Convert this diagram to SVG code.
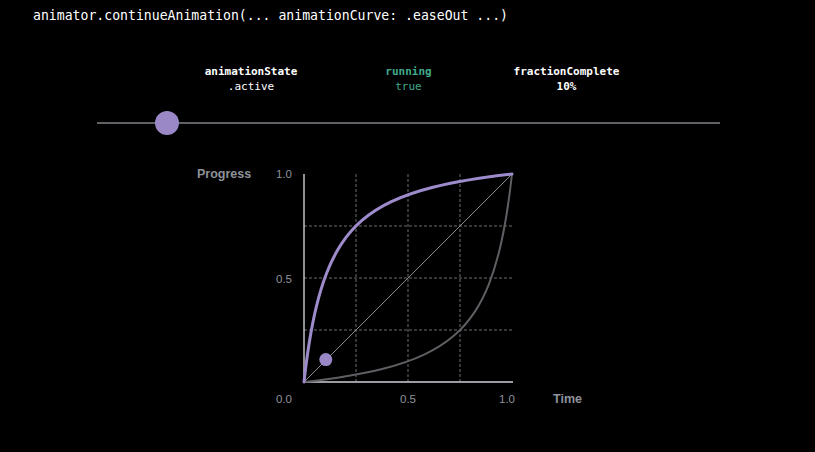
<svg xmlns="http://www.w3.org/2000/svg" width="815" height="452" viewBox="0 0 815 452">
<style>
.mono{font-family:"DejaVu Sans Mono","Liberation Mono",monospace;fill:#ffffff}
.hdr{font-size:11px;font-weight:bold;text-anchor:middle}
.val{font-size:11px;text-anchor:middle}
.green{fill:#41a98b}
.ax{font-family:"Liberation Sans",Arial,sans-serif;fill:#8e929a;font-size:11.5px}
.axb{font-family:"Liberation Sans",Arial,sans-serif;fill:#8e929a;font-size:12.5px;font-weight:bold}
.grid{stroke:#6c6c6c;stroke-width:1;stroke-dasharray:3 2;fill:none}
.axis{stroke:#cfd0d8;stroke-width:1.4;fill:none}
</style>
<defs>
<path id="curve" d="M304,382 C305.733,366.4 307.467,353.833 309.2,343 C311.627,327.833 314.053,316.08 316.48,306.109 C319.947,291.865 323.413,281.295 326.88,272.467 C331.733,260.109 336.587,251.24 341.44,243.903 C348.373,233.422 355.307,226.166 362.24,220.222 C371.947,211.9 381.653,206.266 391.36,201.67 C405.227,195.105 419.093,190.775 432.96,187.262 C459.307,180.586 485.653,176.927 512,174" fill="none"/>
</defs>
<rect width="815" height="452" fill="#000000"/>
<g id="title">
<text class="mono" x="33" y="20" font-size="13.2" textLength="475" lengthAdjust="spacingAndGlyphs">animator.continueAnimation(... animationCurve: .easeOut ...)</text>
</g>
<g id="state">
<text class="mono hdr" x="251" y="74.5">animationState</text>
<text class="mono val" x="251" y="90">.active</text>
</g>
<g id="running">
<text class="mono hdr green" x="408.5" y="74.5">running</text>
<text class="mono val green" x="408.5" y="90">true</text>
</g>
<g id="fraction">
<text class="mono hdr" x="566.5" y="74.5">fractionComplete</text>
<text class="mono val" x="566.5" y="90" font-weight="bold">10%</text>
</g>
<g id="slider">
<line x1="97" y1="123" x2="720" y2="123" stroke="#c0c4cc" stroke-width="1.2"/>
<circle cx="167" cy="123" r="12" fill="#9a88c6"/>
</g>
<g id="chart">
<g id="grid">
<line class="grid" x1="356" y1="174" x2="356" y2="382"/>
<line class="grid" x1="408" y1="174" x2="408" y2="382"/>
<line class="grid" x1="460" y1="174" x2="460" y2="382"/>
<line class="grid" x1="304" y1="226" x2="512" y2="226"/>
<line class="grid" x1="304" y1="278" x2="512" y2="278"/>
<line class="grid" x1="304" y1="330" x2="512" y2="330"/>
</g>
<g id="axes">
<line class="axis" x1="304" y1="174" x2="304" y2="382.7"/>
<line class="axis" x1="303.3" y1="382" x2="513" y2="382"/>
</g>
<g id="connectors">
<use href="#curve" transform="rotate(180 408 278)" stroke="#5e5e63" stroke-width="2"/>
<line x1="304" y1="382" x2="512" y2="174" stroke="#8a8a8e" stroke-width="1"/>
<use href="#curve" stroke="#9d8bcb" stroke-width="3" stroke-linecap="round"/>
</g>
<circle id="marker" cx="325.8" cy="359.6" r="6.5" fill="#9a88c6"/>
<g id="labels">
<text class="axb" x="197" y="178">Progress</text>
<text class="ax" x="276" y="178">1.0</text>
<text class="ax" x="276" y="282.5">0.5</text>
<text class="ax" x="276" y="402.5">0.0</text>
<text class="ax" x="408" y="402.5" text-anchor="middle">0.5</text>
<text class="ax" x="507" y="402.5" text-anchor="middle">1.0</text>
<text class="axb" x="553" y="403">Time</text>
</g>
</g>
</svg>
